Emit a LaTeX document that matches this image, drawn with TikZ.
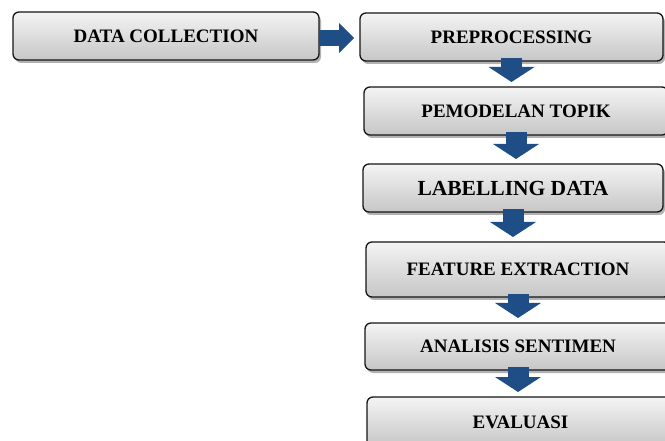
\documentclass[tikz,border=0pt]{standalone}
\usepackage{fontspec}
\setmainfont{Liberation Serif}
\usepackage{tikz}
\usetikzlibrary{arrows.meta,positioning,shadows}
\definecolor{nborder}{HTML}{151515}
\definecolor{nflow}{HTML}{1F4E86}
\definecolor{ntop}{HTML}{F4F4F4}
\definecolor{nbottom}{HTML}{C6C6C6}
\tikzset{
  box/.style={draw=nborder, rounded corners=6pt, align=center, minimum height=48pt,
              inner sep=0pt, outer sep=0pt, line width=1.3pt, top color=ntop, bottom color=nbottom,
              font=\fontsize{19}{21}\selectfont\bfseries,
              drop shadow={shadow xshift=2pt, shadow yshift=-3pt, opacity=.3, fill=black}},
  bigbox/.style={box, font=\fontsize{21.5}{23}\selectfont\bfseries},
  flow/.style={draw=nflow, line width=21pt, shorten >=5pt,
               -{Triangle[width=46pt, length=15pt, line width=0pt 0]}},
  hflow/.style={flow, line width=16pt, shorten >=6pt,
                -{Triangle[width=30pt, length=15pt, line width=0pt 0]}},
}

\begin{document}
\begin{tikzpicture}[x=1pt, y=-1pt, node distance=26pt]
  \useasboundingbox (0,0) rectangle (665,441);
  \clip (0,0) rectangle (665,441);

  \node[box, minimum width=306pt] (datac) at (166,36) {DATA COLLECTION};
  \node[box, minimum width=303pt, right=41pt of datac, yshift=-1pt] (prep) {PREPROCESSING};
  \node[box, minimum width=304pt, below=of prep, xshift=4.5pt] (topik) {PEMODELAN TOPIK};
  \node[bigbox, minimum width=300pt, below=29pt of topik, xshift=-3pt] (label) {LABELLING DATA};
  \node[box, minimum width=304pt, minimum height=55pt, below=30pt of label, xshift=5pt] (feat) {FEATURE EXTRACTION};
  \node[box, minimum width=306pt, minimum height=47pt, below=of feat] (anal) {ANALISIS SENTIMEN};
  \node[box, minimum width=307pt, minimum height=50pt, below=27pt of anal, xshift=2.5pt] (eval) {EVALUASI};

  \draw[hflow] ([yshift=-2pt]datac.east) -- ([yshift=-2pt]datac.east -| prep.west);
  \draw[flow] ([yshift=3pt]prep.south) -- (prep.south |- topik.north);
  \draw[flow] ([yshift=3pt]topik.south) -- (topik.south |- label.north);
  \draw[flow] ([yshift=3pt]label.south) -- (label.south |- feat.north);
  \draw[flow] ([yshift=3pt]feat.south) -- (feat.south |- anal.north);
  \draw[flow] ([yshift=3pt]anal.south) -- (anal.south |- eval.north);
\end{tikzpicture}
\end{document}
